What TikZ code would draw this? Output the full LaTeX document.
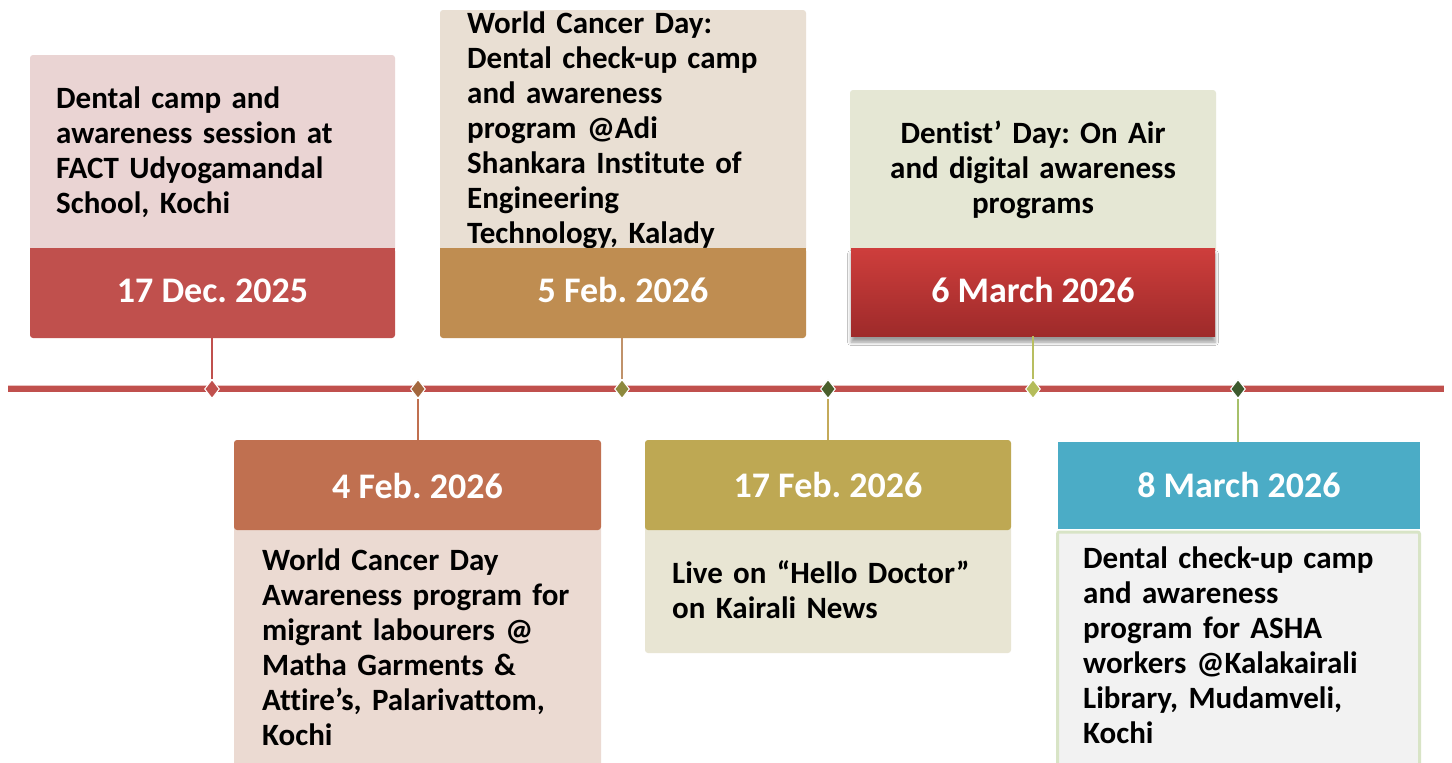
\documentclass[tikz,border=0pt]{standalone}
\usepackage{fontspec}
\setmainfont[Ligatures={NoCommon}]{Carlito}
\usetikzlibrary{shapes.geometric,shadows.blur}
\definecolor{lineRed}{HTML}{C0504D}
\definecolor{bandA}{HTML}{C0504D}
\definecolor{boxA}{HTML}{EAD4D3}
\definecolor{bandB}{HTML}{BF8D51}
\definecolor{boxB}{HTML}{E9DFD3}
\definecolor{bandCtop}{HTML}{CE3E3C}
\definecolor{bandCbot}{HTML}{9E2A2A}
\definecolor{boxC}{HTML}{E5E7D4}
\definecolor{bandD}{HTML}{C07050}
\definecolor{boxD}{HTML}{EBDAD2}
\definecolor{bandE}{HTML}{BEA853}
\definecolor{boxE}{HTML}{E8E5D3}
\definecolor{bandF}{HTML}{4BACC6}
\definecolor{boxF}{HTML}{F2F2F2}
\definecolor{edgeF}{HTML}{D8E4C6}
\definecolor{mkA}{HTML}{C0504D}
\definecolor{mkB}{HTML}{A3673D}
\definecolor{mkC}{HTML}{8D893D}
\definecolor{mkD}{HTML}{4A5F2C}
\definecolor{mkE}{HTML}{B4BC5A}
\definecolor{mkF}{HTML}{3D5A2E}
\definecolor{cnA}{HTML}{C0504D}
\definecolor{cnB}{HTML}{C0926A}
\definecolor{cnC}{HTML}{B8BE60}
\definecolor{cnD}{HTML}{C07050}
\definecolor{cnE}{HTML}{C4AA5A}
\definecolor{cnF}{HTML}{A6C06A}
\begin{document}
\frenchspacing
\begin{tikzpicture}[x=1pt,y=-1pt,
  band/.style={rectangle, inner sep=0pt, outer sep=0pt},
  body/.style={inner sep=0pt, font=\fontsize{31}{35}\selectfont\bfseries\frenchspacing, text width=380pt, align=left, anchor=north west},
  datelbl/.style={inner sep=0pt, font=\fontsize{36}{40}\selectfont\bfseries\frenchspacing, text=white, anchor=base},
  marker/.style={diamond, draw=white, line width=1pt, inner sep=0pt, minimum width=15pt, minimum height=19pt},
  conn/.style={line width=1.6pt}
]
\clip (0,0) rectangle (1452,763);
\fill[white] (0,0) rectangle (1452,763);

% ---- timeline
\coordinate (tl0) at (8,389);
\coordinate (tl1) at (1444,389);
\draw[lineRed, line width=6.5pt] (tl0) -- (tl1);
\draw[lineRed!35, line width=0.8pt] (8,385.5) -- (1444,385.5);

% ---- top box 1
\fill[boxA, rounded corners=3pt] (30,55) rectangle (395,252);
\node[body] (t1) at (56,83.5) {\strut Dental camp and\\awareness session at\\FACT Udyogamandal\\School, Kochi};
\fill[bandA, rounded corners=3pt] (30,248) rectangle (395,338);
\fill[bandA] (30,248) rectangle (395,260);
\node[band, minimum width=365pt, minimum height=90pt] (d1) at (212.5,293) {};
\node[datelbl] (l1) at (212.5,302) {17 Dec. 2025};

% ---- top box 2
\fill[boxB, rounded corners=3pt] (440,10) rectangle (806,252);
\node[body] (t2) at (467,8.5) {\strut World Cancer Day:\\Dental check-up camp\\and awareness\\program @Adi\\Shankara Institute of\\Engineering\\Technology, Kalady};
\fill[bandB, rounded corners=3pt] (440,248) rectangle (806,338);
\fill[bandB] (440,248) rectangle (806,260);
\node[band, minimum width=366pt, minimum height=90pt] (d2) at (623,293) {};
\node[datelbl] (l2) at (623,302) {5 Feb. 2026};

% ---- top box 3
\fill[boxC, rounded corners=3pt] (850,90) rectangle (1216,252);
\node[body, anchor=north, align=center, text width=360pt] (t3) at (1033,118.5) {\strut Dentist’ Day: On Air\\and digital awareness\\programs};
\node[band, minimum width=364pt, minimum height=88pt,
  top color=bandCtop, bottom color=bandCbot,
  blur shadow={shadow xshift=0pt, shadow yshift=-6pt, shadow blur radius=3.5pt, shadow opacity=40}] (d3) at (1033,292) {};
\node[datelbl] (l3) at (1033,302) {6 March 2026};

% ---- bottom box 1
\fill[boxD, rounded corners=3pt] (234,526) rectangle (601,780);
\fill[bandD, rounded corners=3pt] (234,440) rectangle (601,530);
\node[band, minimum width=367pt, minimum height=90pt] (d4) at (417.5,485) {};
\node[datelbl] (l4) at (417.5,498) {4 Feb. 2026};
\node[body] (t4) at (262,545.5) {\strut World Cancer Day\\Awareness program for\\migrant labourers @\\Matha Garments \&\\Attire’s, Palarivattom,\\Kochi};

% ---- bottom box 2
\fill[boxE, rounded corners=3pt] (645,526) rectangle (1011,653);
\fill[bandE, rounded corners=3pt] (645,440) rectangle (1011,530);
\node[band, minimum width=366pt, minimum height=90pt] (d5) at (828,485) {};
\node[datelbl] (l5) at (828,497) {17 Feb. 2026};
\node[body] (t5) at (672,558.5) {\strut Live on “Hello Doctor”\\on Kairali News};

% ---- bottom box 3
\fill[bandF] (1058,442) rectangle (1420,529);
\node[band, minimum width=362pt, minimum height=87pt] (d6) at (1239,485.5) {};
\node[datelbl] (l6) at (1239,497) {8 March 2026};
\draw[edgeF, fill=boxF, line width=3pt, rounded corners=2pt] (1057.5,532) rectangle (1419.5,790);
\node[body] (t6) at (1083,543.5) {\strut Dental check-up camp\\and awareness\\program for ASHA\\workers @Kalakairali\\Library, Mudamveli,\\Kochi};

% ---- markers
\node[marker, fill=mkA] (m1) at (212,389) {};
\node[marker, fill=mkB] (m2) at (418,389) {};
\node[marker, fill=mkC] (m3) at (622,389) {};
\node[marker, fill=mkD] (m4) at (828,389) {};
\node[marker, fill=mkE] (m5) at (1033,389) {};
\node[marker, fill=mkF] (m6) at (1238,389) {};

% ---- connectors
\draw[conn, cnA] (d1.south -| m1) -- (m1);
\draw[conn, cnB] (d2.south -| m3) -- (m3);
\draw[conn, cnC] (d3.south -| m5) -- (m5);
\draw[conn, cnD] (d4.north -| m2) -- (m2);
\draw[conn, cnE] (d5.north -| m4) -- (m4);
\draw[conn, cnF] (d6.north -| m6) -- (m6);
\end{tikzpicture}
\end{document}
